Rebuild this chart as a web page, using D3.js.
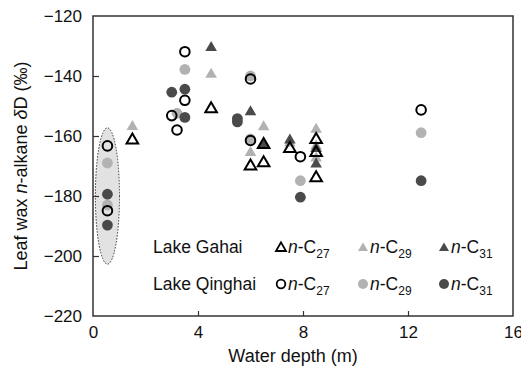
<!DOCTYPE html>
<html>
<head>
<meta charset="utf-8">
<script src="https://cdn.jsdelivr.net/npm/d3@7"></script>
<style>
  body { margin: 0; background: #fff; }
  text { font-family: 'Liberation Sans', Arial, sans-serif; fill: #111; }
</style>
</head>
<body>
<script>
  // [water depth (m), dD (permil)]
  const gahaiC27 = [[1.5,-161],[4.5,-150.6],[6.0,-169.7],[6.5,-162.5],[6.5,-168.6],[7.5,-163.8],[8.5,-160.8],[8.5,-165.2],[8.5,-173.6]];
  const gahaiC29 = [[1.5,-156.5],[4.5,-139.1],[6.0,-165.2],[6.5,-156.6],[7.5,-162],[8.5,-157.4],[8.5,-163],[8.5,-167]];
  const gahaiC31 = [[4.5,-130.2],[6.0,-151.6],[6.5,-162.4],[7.5,-161],[8.5,-163.8],[8.5,-169]];

  const qinghaiC27 = [[0.55,-163.3],[0.55,-184.9],[3.5,-131.9],[3.5,-148.1],[3.0,-153.2],[3.2,-158],[6.0,-141],[6.0,-161.5],[7.9,-166.9],[12.5,-151.3]];
  const qinghaiC29 = [[0.55,-169],[0.55,-183],[3.5,-137.8],[3.2,-152.4],[6.0,-140],[6.0,-161],[7.9,-174.9],[12.5,-158.9]];
  const qinghaiC31 = [[0.55,-179.4],[0.55,-189.7],[3.0,-145.4],[3.5,-144.4],[3.5,-153.8],[5.5,-154.2],[5.5,-155.3],[7.9,-180.4],[12.5,-174.9]];

  const xTicks = [0, 4, 8, 12, 16];
  const yTicks = [-120, -140, -160, -180, -200, -220];
  const lakes = ['Lake Gahai', 'Lake Qinghai'];
  const alkanes = ['27', '29', '31'];

  // shaded region round the shallow Qinghai samples: [cx, cy, rx, ry] in data units
  const shade = [0.55, -180, 0.46, 22.7];

  const WIDTH = 521;
  const HEIGHT = 370;
  const LEFT = 93, RIGHT = 513, TOP = 16, BOTTOM = 316;

  const LIGHT = '#b2b2b2';
  const DARK = '#4a4a4a';

  const svg = d3.select('body').append('svg')
    .attr('width', WIDTH)
    .attr('height', HEIGHT);

  const x = d3.scaleLinear().domain([0, 16]).range([LEFT, RIGHT]);
  const y = d3.scaleLinear().domain([-220, -120]).range([BOTTOM, TOP]);

  // shaded ellipse
  svg.append('ellipse')
    .attr('cx', x(shade[0]))
    .attr('cy', y(shade[1]))
    .attr('rx', x(shade[2]) - x(0))
    .attr('ry', y(-220) - y(-220 + shade[3]))
    .attr('fill', '#e2e2e2')
    .attr('stroke', '#333')
    .attr('stroke-width', 1)
    .attr('stroke-dasharray', '1.5,1.5');

  // frame
  svg.append('rect')
    .attr('x', LEFT).attr('y', TOP)
    .attr('width', RIGHT - LEFT).attr('height', BOTTOM - TOP)
    .attr('fill', 'none')
    .attr('stroke', '#333')
    .attr('stroke-width', 1.5);

  const axisX = d3.axisBottom(x).tickValues(xTicks).tickSize(-5).tickPadding(10).tickFormat(d3.format('d'));
  const gx = svg.append('g').attr('transform', `translate(0,${BOTTOM})`).call(axisX);

  const axisY = d3.axisLeft(y).tickValues(yTicks).tickSize(-6).tickPadding(11)
    .tickFormat(d => '\u2212' + Math.abs(d));
  const gy = svg.append('g').attr('transform', `translate(${LEFT},0)`).call(axisY);

  [gx, gy].forEach(g => {
    g.select('.domain').remove();
    g.selectAll('line').attr('stroke', '#333').attr('stroke-width', 1.2);
    g.selectAll('text').attr('font-size', 17).attr('font-family', "'Liberation Sans', Arial, sans-serif").attr('fill', '#111');
  });
  gx.selectAll('.tick').filter(d => d === 0 || d === 16).select('line').remove();
  gy.selectAll('.tick').filter(d => d === -120 || d === -220).select('line').remove();

  // axis titles
  svg.append('text')
    .attr('x', 293).attr('y', 362)
    .attr('text-anchor', 'middle')
    .attr('font-size', 18)
    .text('Water depth (m)');

  const yt = svg.append('text')
    .attr('transform', `translate(27,${(TOP + BOTTOM) / 2}) rotate(-90)`)
    .attr('text-anchor', 'middle')
    .attr('font-size', 18);
  yt.append('tspan').text('Leaf wax ');
  yt.append('tspan').attr('font-style', 'italic').text('n');
  yt.append('tspan').text('-alkane ');
  yt.append('tspan').attr('font-style', 'italic').text('\u03b4');
  yt.append('tspan').text('D (\u2030)');

  // markers
  const tri = 'M0,-5.5L5.8,4.5L-5.8,4.5Z';

  function triangles(data, fill, stroke) {
    svg.append('g').selectAll('path')
      .data(data)
      .enter()
      .append('path')
      .attr('d', tri)
      .attr('transform', d => `translate(${x(d[0])},${y(d[1])})`)
      .attr('fill', fill)
      .attr('stroke', stroke)
      .attr('stroke-width', stroke === 'none' ? 0 : 2);
  }

  function circles(data, fill, stroke) {
    svg.append('g').selectAll('circle')
      .data(data)
      .enter()
      .append('circle')
      .attr('cx', d => x(d[0]))
      .attr('cy', d => y(d[1]))
      .attr('r', stroke === 'none' ? 5.4 : 4.8)
      .attr('fill', fill)
      .attr('stroke', stroke)
      .attr('stroke-width', stroke === 'none' ? 0 : 2);
  }

  triangles(gahaiC29, LIGHT, 'none');
  circles(qinghaiC29, LIGHT, 'none');
  triangles(gahaiC31, DARK, 'none');
  circles(qinghaiC31, DARK, 'none');
  triangles(gahaiC27, 'none', '#000');
  circles(qinghaiC27, 'none', '#000');

  // legend
  const rowY = [253, 290];
  const colX = [281, 363, 444];
  const styles = [['none', '#000'], [LIGHT, 'none'], [DARK, 'none']];

  lakes.forEach((lake, r) => {
    svg.append('text')
      .attr('x', 153).attr('y', rowY[r])
      .attr('font-size', 17.5)
      .text(lake);

    alkanes.forEach((c, i) => {
      const cx = colX[i], cy = rowY[r] - 6;
      const [fill, stroke] = styles[i];
      const sw = stroke === 'none' ? 0 : 1.8;
      if (r === 0) {
        svg.append('path').attr('d', 'M0,-4.6L5,4L-5,4Z')
          .attr('transform', `translate(${cx},${cy})`)
          .attr('fill', fill).attr('stroke', stroke).attr('stroke-width', sw);
      } else {
        svg.append('circle').attr('cx', cx).attr('cy', cy)
          .attr('r', stroke === 'none' ? 5 : 4.3)
          .attr('fill', fill).attr('stroke', stroke).attr('stroke-width', sw);
      }
      const t = svg.append('text').attr('x', cx + 7).attr('y', rowY[r]).attr('font-size', 17.5);
      t.append('tspan').attr('font-style', 'italic').text('n');
      t.append('tspan').text('-C');
      t.append('tspan').attr('font-size', 12).attr('dy', 5).text(c);
    });
  });
</script>
</body>
</html>
